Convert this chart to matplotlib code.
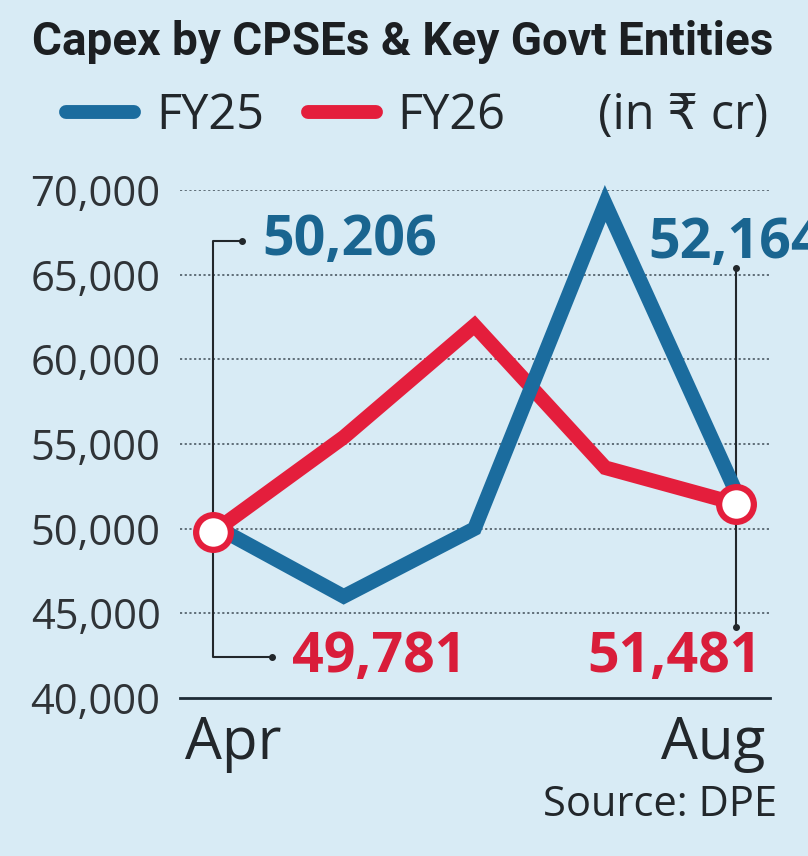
import matplotlib
matplotlib.use('Agg')
import matplotlib.pyplot as plt
import matplotlib.transforms as mtransforms
from matplotlib.lines import Line2D

# Capex by CPSEs & key govt entities, monthly (in Rs crore)
months = ['Apr', 'May', 'Jun', 'Jul', 'Aug']
fy25 = [50206, 46000, 50000, 69200, 52164]
fy26 = [49781, 55400, 62000, 53600, 51481]
y_ticks = [40000, 45000, 50000, 55000, 60000, 65000, 70000]
x_labels = ['Apr', 'Aug']

BG = '#d8ebf5'
BLUE = '#1b6c9e'
BLUE_TXT = '#1a6590'
RED = '#e41e3c'
RED_TXT = '#d91d3a'
INK = '#22272b'

plt.rcParams['font.family'] = ['Open Sans', 'DejaVu Sans']

fig = plt.figure(figsize=(8.08, 8.56), dpi=100, facecolor=BG)
ax = fig.add_axes([180 / 808, 158 / 856, 590 / 808, 508 / 856], facecolor=BG)

x = list(range(len(months)))

# lines: FY26 under FY25, red end markers on top
ax.plot(x, fy26, color=RED, lw=10.5, solid_joinstyle='miter', zorder=3, clip_on=False)
ax.plot(x, fy25, color=BLUE, lw=10.5, solid_joinstyle='miter', zorder=4, clip_on=False)
ax.plot([x[0], x[-1]], [fy26[0], fy26[-1]], ls='none', marker='o', ms=25,
        mfc='white', mec=RED, mew=4.5, zorder=6, clip_on=False)

ax.set_xlim(-0.252, 4.26)
ax.set_ylim(40000, 70000)

# dotted grid
ax.set_yticks(y_ticks)
ax.set_yticklabels([f'{v:,}' for v in y_ticks])
for v in y_ticks[1:]:
    ax.axhline(v, color='#56646e', lw=1.3, ls=(0, (1.2, 1.4)), zorder=1)

for s in ['top', 'right', 'left']:
    ax.spines[s].set_visible(False)
ax.spines['bottom'].set_color('#1d2b36')
ax.spines['bottom'].set_linewidth(2)
ax.tick_params(axis='y', length=0, pad=14, labelsize=30, labelcolor='#2f3337')
ax.tick_params(axis='x', length=0, pad=12, labelsize=42, labelcolor=INK)

ax.set_xticks([x[0], x[-1]])
ax.set_xticklabels(x_labels)
xl = ax.get_xticklabels()
xl[0].set_ha('left')
xl[0].set_transform(xl[0].get_transform() + mtransforms.ScaledTranslation(-28 / 100, 0, fig.dpi_scale_trans))
xl[1].set_ha('right')
xl[1].set_transform(xl[1].get_transform() + mtransforms.ScaledTranslation(29 / 100, 0, fig.dpi_scale_trans))

# callout connectors
top_y = 66990
bot_y = 42420
ax.plot([x[0] + 0.22, x[0], x[0], x[0] + 0.45], [top_y, top_y, bot_y, bot_y],
        color=INK, lw=1.5, zorder=2, clip_on=False)
ax.plot([x[0] + 0.22, x[0] + 0.45], [top_y, bot_y], ls='none', marker='o', ms=4,
        color=INK, zorder=2, clip_on=False)
ax.plot([x[-1], x[-1]], [65400, 44200], color=INK, lw=1.5, zorder=2, clip_on=False)
ax.plot([x[-1], x[-1]], [65400, 44200], ls='none', marker='o', ms=4,
        color=INK, zorder=2, clip_on=False)

# value labels
lab_kw = dict(fontsize=40, fontweight='bold', va='center', zorder=7, clip_on=False)
ax.text(x[0] + 0.375, top_y, f'{fy25[0]:,}', color=BLUE_TXT, ha='left', **lab_kw)
ax.text(x[-1] - 0.673, top_y - 120, f'{fy25[-1]:,}', color=BLUE_TXT, ha='left', **lab_kw)
ax.text(x[0] + 0.604, bot_y, f'{fy26[0]:,}', color=RED_TXT, ha='left', **lab_kw)
ax.text(x[-1] + 0.199, bot_y, f'{fy26[-1]:,}', color=RED_TXT, ha='right', **lab_kw)

# title, legend, unit, source
fig.text(32 / 808, 1 - 42 / 856, 'Capex by CPSEs & Key Govt Entities',
         family=['Roboto', 'DejaVu Sans'],
         fontsize=33, fontweight='bold', color='#1c1f22', ha='left', va='center')

handles = [Line2D([], [], color=BLUE, lw=10, solid_capstyle='round'),
           Line2D([], [], color=RED, lw=10, solid_capstyle='round')]
fig.legend(handles, ['FY25', 'FY26'], loc='center left',
           bbox_to_anchor=(66 / 808, 1 - 116 / 856), ncol=2, frameon=False,
           fontsize=35, handlelength=1.4, handletextpad=0.45, columnspacing=0.9,
           borderpad=0, borderaxespad=0, labelcolor=INK)
fig.text(768 / 808, 1 - 116 / 856, '(in ₹ cr)', fontsize=35, color=INK,
         ha='right', va='center')

fig.text(777 / 808, 1 - 805 / 856, 'Source: DPE', fontsize=30, color=INK,
         ha='right', va='center')

fig.savefig('out.png', dpi=100, facecolor=BG)
